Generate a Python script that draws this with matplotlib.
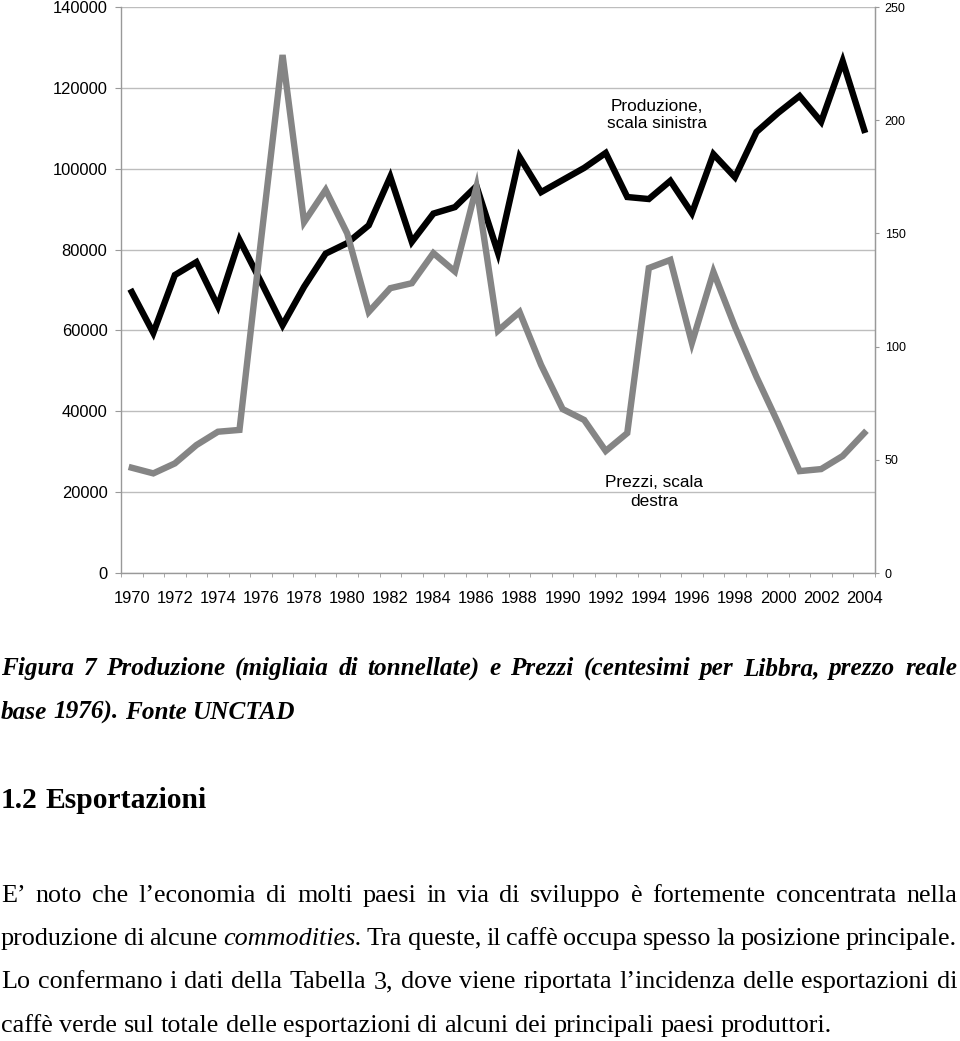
import matplotlib
matplotlib.use("Agg")
import matplotlib.pyplot as plt

# anni 1970-2004
years = list(range(1970, 2005))

# produzione (migliaia di tonnellate), scala sinistra
produzione = [69500, 59400, 73700, 76900, 66000, 82400, 72000, 61300, 70800, 79000,
              81600, 86000, 98000, 81900, 88900, 90500, 95700, 79200, 102900, 94200,
              97200, 100200, 103900, 93000, 92500, 97000, 89000, 103600, 97900, 109100,
              113800, 118000, 111600, 126600, 109600]

# prezzi (centesimi per libbra), scala destra
prezzi = [46.5, 44.0, 48.4, 56.5, 62.4, 63.2, 147.0, 228.8, 155.0, 169.2,
          150.0, 115.3, 125.8, 128.0, 141.3, 133.2, 170.5, 107.0, 115.3, 91.9,
          72.4, 67.6, 53.9, 61.8, 134.7, 138.3, 101.6, 133.0, 108.7, 86.6,
          66.3, 45.0, 45.9, 51.7, 61.8]

left_ticks = [0, 20000, 40000, 60000, 80000, 100000, 120000, 140000]
right_ticks = [0, 50, 100, 150, 200, 250]
year_labels = [str(y) for y in years[::2]]

W, H = 960, 1041
fig = plt.figure(figsize=(W / 100, H / 100), dpi=100)
fig.patch.set_facecolor("white")

ax = fig.add_axes([121 / W, 1 - 573 / H, (875 - 121) / W, (573 - 7) / H])
ax.plot(years, produzione, color="black", lw=4.6, solid_joinstyle="miter")
ax.set_ylim(0, 140000)
ax.set_xlim(1969.5, 2004.5)
ax.set_yticks(left_ticks)
ax.set_yticklabels([str(v) for v in left_ticks], fontsize=11.9, family="Liberation Sans")
ax.set_xticks(years[::2])
ax.set_xticklabels(year_labels, fontsize=11.9, family="Liberation Sans")
ax.set_xticks([y - 0.5 for y in years] + [2004.5], minor=True)
ax.tick_params(axis="x", which="major", length=0, pad=13)
ax.tick_params(axis="x", which="minor", length=3, color="#999999", direction="out")
ax.tick_params(axis="y", length=4.3, color="#999999", pad=5.5)
ax.grid(axis="y", color="#bdbdbd", lw=1)
ax.set_axisbelow(True)
ax.spines["top"].set_visible(False)
for s in ["left", "right", "bottom"]:
    ax.spines[s].set_color("#999999")
    ax.spines[s].set_linewidth(1)

ax2 = ax.twinx()
ax2.plot(years, prezzi, color="#858585", lw=4.6, solid_joinstyle="miter")
ax2.set_ylim(0, 250)
ax2.set_yticks(right_ticks)
ax2.set_yticklabels([str(v) for v in right_ticks], fontsize=9, family="Liberation Sans")
ax2.tick_params(axis="y", length=3, color="#999999", direction="out", pad=4)
for s in ["top", "left", "bottom"]:
    ax2.spines[s].set_visible(False)
ax2.spines["right"].set_color("#999999")

ax.text(1994.38, 113300, "Produzione,\nscala sinistra", ha="center", va="center",
        fontsize=12.4, family="Liberation Sans", linespacing=1.15)
ax.text(1994.24, 20000, "Prezzi, scala\ndestra", ha="center", va="center",
        fontsize=12.4, family="Liberation Sans", linespacing=1.35)

# testo della pagina sotto il grafico
renderer = fig.canvas.get_renderer()


def place_line(words, y, size, justify=True, x0=1, x1=957):
    objs = []
    for w, st, wt in words:
        objs.append(fig.text(0, 1 - y / H, w, fontsize=size, family="Liberation Serif",
                             style=st, weight=wt, va="baseline"))
    widths = [o.get_window_extent(renderer).width for o in objs]
    space = size * 0.25 * 100 / 72
    if justify and len(objs) > 1:
        gap = max((x1 - x0 - sum(widths)) / (len(objs) - 1), 2)
    else:
        gap = space
    x = x0
    for o, w in zip(objs, widths):
        o.set_x(x / W)
        x += w + gap


def words_of(line, st="normal", wt="normal"):
    return [(w, st, wt) for w in line.split()]


cap_size = 18.2
place_line(words_of("Figura 7 Produzione (migliaia di tonnellate) e Prezzi (centesimi per Libbra, prezzo reale",
                    "italic", "bold"), 675, cap_size)
place_line(words_of("base 1976). Fonte UNCTAD", "italic", "bold"), 719, cap_size, justify=False)
place_line(words_of("1.2 Esportazioni", "normal", "bold"), 808, 21.3, justify=False)

body_size = 18.8
place_line(words_of("E’ noto che l’economia di molti paesi in via di sviluppo è fortemente concentrata nella"),
           902, body_size)
place_line(words_of("produzione di alcune") + [("commodities.", "italic", "normal")]
           + words_of("Tra queste, il caffè occupa spesso la posizione principale."), 945, body_size)
place_line(words_of("Lo confermano i dati della Tabella 3, dove viene riportata l’incidenza delle esportazioni di"),
           988, body_size)
place_line(words_of("caffè verde sul totale delle esportazioni di alcuni dei principali paesi produttori."),
           1032, body_size, justify=False)

fig.savefig("out.png", dpi=100)
